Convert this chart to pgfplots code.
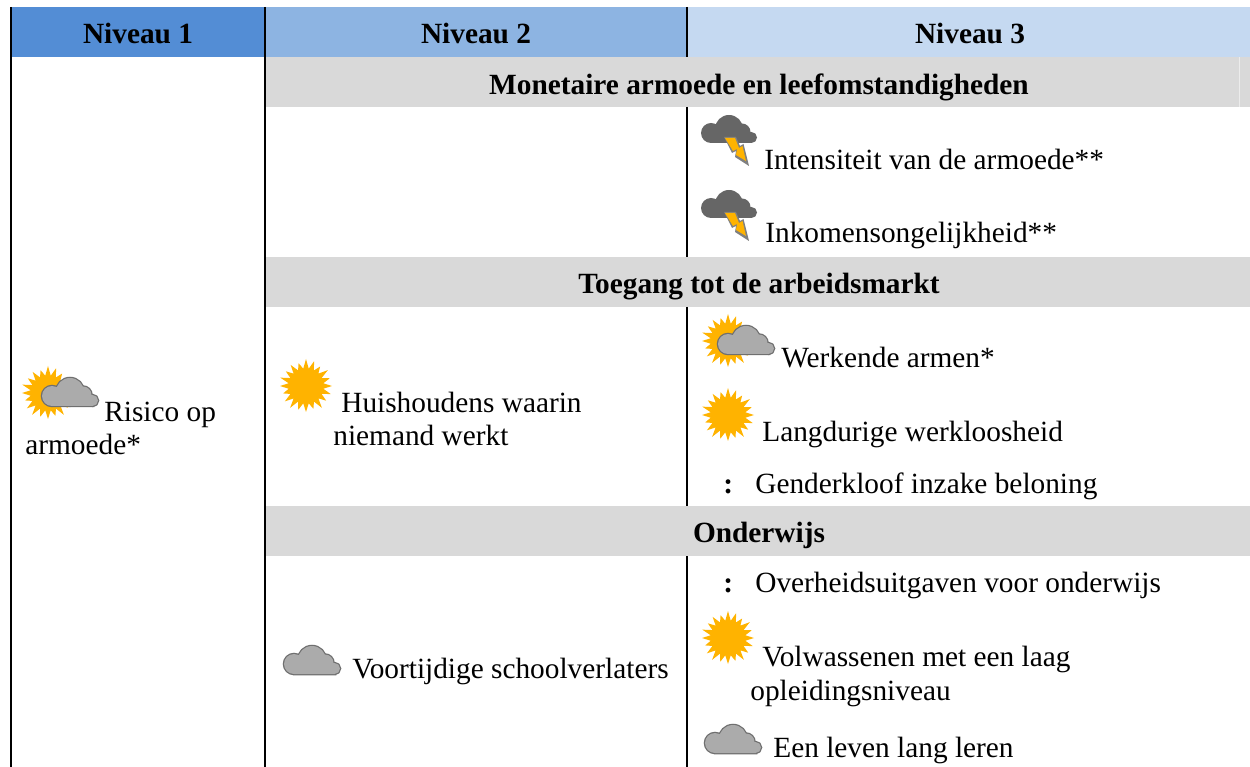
\documentclass[border=0pt]{standalone}
\usepackage{fontspec}
\setmainfont{Liberation Serif}
\usepackage{pgfplots}
\pgfplotsset{compat=1.18}
\definecolor{hA}{HTML}{538DD5}
\definecolor{hB}{HTML}{8DB4E2}
\definecolor{hC}{HTML}{C5D9F1}
\definecolor{band}{HTML}{D9D9D9}
\definecolor{sunc}{HTML}{FFB300}
\definecolor{cloudf}{HTML}{ABABAB}
\definecolor{cloudl}{HTML}{6F6F6F}
\definecolor{storm}{HTML}{666666}
\newcommand{\sunpath}{%
  \pgfpathmoveto{\pgfpointpolar{0}{26pt}}%
  \foreach \a/\r in {0/26,18/25,36/27,54/24,72/26,90/27,108/24,126/26,144/25,162/27,180/26,198/24,216/26,234/27,252/25,270/26,288/24,306/27,324/25,342/26}{%
    \pgfmathsetmacro{\b}{\a+9}%
    \pgfpathlineto{\pgfpointpolar{\a}{\r pt}}%
    \pgfpathlineto{\pgfpointpolar{\b}{17.5pt}}%
  }%
  \pgfpathclose}
\newcommand{\cloudpath}{%
  \pgfpathcircle{\pgfpoint{-18pt}{-4pt}}{10pt}%
  \pgfpathcircle{\pgfpoint{0pt}{0pt}}{14pt}%
  \pgfpathcircle{\pgfpoint{13pt}{-3pt}}{8.5pt}%
  \pgfpathcircle{\pgfpoint{22.5pt}{-8.5pt}}{5.5pt}%
  \pgfpathrectangle{\pgfpoint{-18pt}{-14pt}}{\pgfpoint{41pt}{10pt}}}
\pgfdeclareplotmark{sun}{%
  \pgftransformscale{0.6}%
  \pgfsetfillcolor{sunc}\sunpath\pgfusepathqfill}
\pgfdeclareplotmark{cloud}{%
  \pgftransformscale{0.6}%
  \pgfsetstrokecolor{cloudl}\pgfsetlinewidth{1.5pt}\pgfsetfillcolor{cloudf}%
  \cloudpath\pgfusepathqstroke
  \cloudpath\pgfusepathqfill}
\pgfdeclareplotmark{storm}{%
  \pgftransformscale{0.6}%
  \pgfsetfillcolor{storm}\cloudpath\pgfusepathqfill
  \pgfsetfillcolor{gray}%
  \pgfpathmoveto{\pgfpoint{-5pt}{-8pt}}\pgfpathlineto{\pgfpoint{7pt}{-8pt}}%
  \pgfpathlineto{\pgfpoint{11pt}{-17pt}}\pgfpathlineto{\pgfpoint{14.5pt}{-15pt}}%
  \pgfpathlineto{\pgfpoint{20pt}{-37pt}}\pgfpathlineto{\pgfpoint{6pt}{-28pt}}%
  \pgfpathlineto{\pgfpoint{7pt}{-22pt}}\pgfpathlineto{\pgfpoint{3pt}{-24pt}}%
  \pgfpathclose\pgfusepathqfill
  \pgfsetfillcolor{sunc}%
  \pgfpathmoveto{\pgfpoint{-4pt}{-9pt}}\pgfpathlineto{\pgfpoint{6pt}{-9pt}}%
  \pgfpathlineto{\pgfpoint{10pt}{-19pt}}\pgfpathlineto{\pgfpoint{13.5pt}{-17pt}}%
  \pgfpathlineto{\pgfpoint{17pt}{-32pt}}\pgfpathlineto{\pgfpoint{7pt}{-26pt}}%
  \pgfpathlineto{\pgfpoint{8pt}{-20pt}}\pgfpathlineto{\pgfpoint{4pt}{-22pt}}%
  \pgfpathclose\pgfusepathqfill}
\tikzset{lab/.style={anchor=base west,inner sep=0pt,font=\fontsize{17.6}{20}\selectfont},
  clab/.style={anchor=base,inner sep=0pt,font=\fontsize{17.6}{20}\selectfont\bfseries}}
\begin{document}
\begin{tikzpicture}
\path[use as bounding box] (0,0) rectangle (750pt,460.2pt);
\begin{axis}[scale only axis,width=750pt,height=460.2pt,xmin=0,xmax=1250,ymin=0,ymax=767,
  y dir=reverse,hide axis,clip=false]
% headers
\addplot[fill=hA,draw=none] coordinates {(11,7)(265,7)(265,57)(11,57)} --cycle;
\addplot[fill=hB,draw=none] coordinates {(265,7)(687,7)(687,57)(265,57)} --cycle;
\addplot[fill=hC,draw=none] coordinates {(687,7)(1250,7)(1250,57)(687,57)} --cycle;
% section bands
\addplot[fill=band,draw=none] coordinates {(266,57)(1250,57)(1250,107)(266,107)} --cycle;
\addplot[fill=band,draw=none] coordinates {(266,257)(1250,257)(1250,307)(266,307)} --cycle;
\addplot[fill=band,draw=none] coordinates {(266,506)(1250,506)(1250,556)(266,556)} --cycle;
\addplot[color=white!50!band,line width=0.4pt] coordinates {(1239.5,57)(1239.5,107)};
% rules
\addplot[black,line width=1.05pt] coordinates {(11.2,7)(11.2,767)};
\addplot[black,line width=1.05pt] coordinates {(265.3,7)(265.3,767)};
\addplot[black,line width=1.05pt] coordinates {(686.8,7)(686.8,57)};
\addplot[black,line width=1.05pt] coordinates {(686.8,107)(686.8,257)};
\addplot[black,line width=1.05pt] coordinates {(686.8,307)(686.8,506)};
\addplot[black,line width=1.05pt] coordinates {(686.8,556)(686.8,767)};
% icons
\addplot[only marks,mark=sun] coordinates {(48,393)(728,341)(306,386)(728,415)(728,638)};
\addplot[only marks,mark=cloud] coordinates {(70,392)(746,340)(312,660)(733,739)};
\addplot[only marks,mark=storm] coordinates {(729,129)(729,204)};
% headers text
\node[clab] at (axis cs:138,43.5) {Niveau 1};
\node[clab] at (axis cs:476,43.5) {Niveau 2};
\node[clab] at (axis cs:970,43.5) {Niveau 3};
\node[clab] at (axis cs:759,94.5) {Monetaire armoede en leefomstandigheden};
\node[clab] at (axis cs:759,293.5) {Toegang tot de arbeidsmarkt};
\node[clab] at (axis cs:759,542) {Onderwijs};
% body text
\node[lab] at (axis cs:104,422) {Risico op};
\node[lab] at (axis cs:25,455) {armoede*};
\node[lab] at (axis cs:341,413) {Huishoudens waarin};
\node[lab] at (axis cs:333,446) {niemand werkt};
\node[lab] at (axis cs:352,678.5) {Voortijdige schoolverlaters};
\node[lab] at (axis cs:764,170) {Intensiteit van de armoede**};
\node[lab] at (axis cs:765,243) {Inkomensongelijkheid**};
\node[lab] at (axis cs:781,368) {Werkende armen*};
\node[lab] at (axis cs:762,442) {Langdurige werkloosheid};
\node[lab] at (axis cs:723,493) {\textbf{:}};
\node[lab] at (axis cs:755,493) {Genderkloof inzake beloning};
\node[lab] at (axis cs:723,592) {\textbf{:}};
\node[lab] at (axis cs:755,592) {Overheidsuitgaven voor onderwijs};
\node[lab] at (axis cs:762,666) {Volwassenen met een laag};
\node[lab] at (axis cs:750,700) {opleidingsniveau};
\node[lab] at (axis cs:773,757) {Een leven lang leren};
\end{axis}
\end{tikzpicture}
\end{document}
